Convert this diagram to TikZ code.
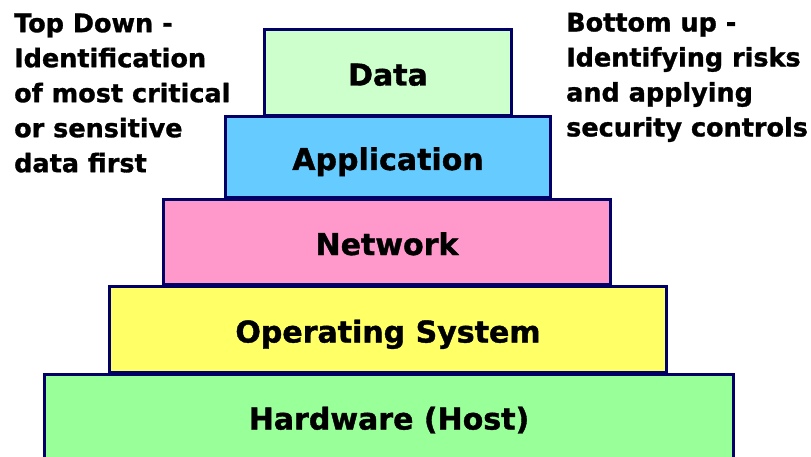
\documentclass[tikz,border=0pt]{standalone}
\usepackage{fontspec}
\setmainfont{DejaVu Sans}[BoldFeatures={FakeBold=1.2}]
\definecolor{navy}{HTML}{000066}
\definecolor{cdata}{HTML}{CCFFCC}
\definecolor{capp}{HTML}{66CCFF}
\definecolor{cnet}{HTML}{FF99CC}
\definecolor{cos}{HTML}{FFFF66}
\definecolor{chw}{HTML}{99FF99}
\begin{document}
\begin{tikzpicture}[x=1pt,y=-1pt,
  layer/.style={draw=navy, line width=3pt, inner sep=0pt, text height=26pt, text depth=0pt, font=\fontsize{30}{36}\selectfont\bfseries},
  side/.style={inner sep=0pt, align=left, anchor=north west, font=\fontsize{25.5}{35}\selectfont\bfseries}]
\useasboundingbox (0,0) rectangle (811,457);
\node[layer, fill=chw, minimum width=689pt, minimum height=90pt, text height=20pt] (hw) at (389,419.5) {Hardware (Host)};
\node[layer, fill=cos, minimum width=557pt, minimum height=86pt] (os) at (388,329.5) {Operating System};
\node[layer, fill=cnet, minimum width=447pt, minimum height=85pt] (net) at (387,242) {Network};
\node[layer, fill=capp, minimum width=325pt, minimum height=81pt] (app) at (388,157) {Application};
\node[layer, fill=cdata, minimum width=247pt, minimum height=86pt] (data) at (388,72.5) {Data};
\node[side] (td) at (14,13.4) {Top Down -\\Identification\\of most critical\\or sensitive\\data first};
\node[side] (bu) at (566,12.6) {Bottom up -\\Identifying risks\\and applying\\security controls};
\end{tikzpicture}
\end{document}
